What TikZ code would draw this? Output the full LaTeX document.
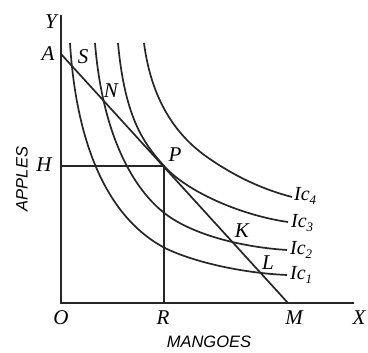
\documentclass[tikz,border=0pt]{standalone}
\usepackage{fontspec}
\setmainfont{Liberation Serif}
\setsansfont{Liberation Sans}
\begin{document}
\begin{tikzpicture}[x=1pt,y=-1pt,
  axis/.style={line width=2pt,black!85},
  curve/.style={line width=1.7pt,black!85},
  guide/.style={line width=1.7pt,black!85},
  lbl/.style={font=\fontsize{21}{22}\selectfont\itshape,inner sep=0pt},
  axlbl/.style={font=\fontsize{16.5}{17}\selectfont\sffamily\itshape,inner sep=0pt},
  iclbl/.style={font=\fontsize{20}{21}\selectfont\itshape,inner sep=1pt,anchor=west}]
\useasboundingbox (0,0) rectangle (368,353);
% axes
\coordinate (ytop) at (61,15);
\coordinate (o) at (61,303);
\coordinate (xend) at (354,303);
\draw[axis] (ytop) -- (o) -- (xend);
% budget line
\coordinate (a) at (61,54);
\coordinate (m) at (288,303);
\draw[curve] (a) -- (m);
% guides
\coordinate (h) at (61,166);
\coordinate (p) at (164,166);
\coordinate (r) at (164,303);
\draw[guide] (h) -- (p) -- (r);
% indifference curves
\coordinate (ic1s) at (70,43);
\coordinate (ic1m) at (163,247);
\coordinate (ic1e) at (287,275);
\draw[curve] (ic1s) .. controls (76,140) and (105,215) .. (ic1m)
  .. controls (190,261) and (240,273) .. (ic1e);
\coordinate (ic2s) at (95,43);
\coordinate (ic2m) at (163,212);
\coordinate (ic2e) at (287,250);
\draw[curve] (ic2s) .. controls (102,130) and (130,185) .. (ic2m)
  .. controls (190,234) and (240,247) .. (ic2e);
\coordinate (ic3s) at (118,43);
\coordinate (ic3m) at (165,167);
\coordinate (ic3e) at (288,222);
\draw[curve] (ic3s) .. controls (125,120) and (145,145) .. (ic3m)
  .. controls (190,194) and (245,216) .. (ic3e);
\coordinate (ic4s) at (144,43);
\coordinate (ic4m) at (207,157);
\coordinate (ic4e) at (292,197);
\draw[curve] (ic4s) .. controls (152,105) and (180,138) .. (ic4m)
  .. controls (237,178) and (265,190) .. (ic4e);
% labels
\node[lbl] (ylab) at (51,22) {Y};
\node[lbl] (alab) at (48,54) {A};
\node[lbl] (slab) at (83,57) {S};
\node[lbl] (nlab) at (111,91) {N};
\node[lbl] (hlab) at (44,165) {H};
\node[lbl] (plab) at (175,155) {P};
\node[lbl] (klab) at (242,231) {K};
\node[lbl] (llab) at (268,263) {L};
\node[lbl] (olab) at (61,318) {O};
\node[lbl] (rlab) at (163,318) {R};
\node[lbl] (mlab) at (294,318) {M};
\node[lbl] (xlab) at (359,318) {X};
\node[iclbl] (ic4) at ([xshift=1pt,yshift=1pt]ic4e) {Ic\raisebox{-0.35ex}{\fontsize{13}{13}\selectfont 4}};
\node[iclbl] (ic3) at ([xshift=2pt,yshift=-1pt]ic3e) {Ic\raisebox{-0.35ex}{\fontsize{13}{13}\selectfont 3}};
\node[iclbl] (ic2) at ([xshift=2pt]ic2e) {Ic\raisebox{-0.35ex}{\fontsize{13}{13}\selectfont 2}};
\node[iclbl] (ic1) at ([xshift=2pt]ic1e) {Ic\raisebox{-0.35ex}{\fontsize{13}{13}\selectfont 1}};
\node[axlbl] (mangoes) at (209,342) {MANGOES};
\node[axlbl,rotate=90] (apples) at (22,179) {APPLES};
\end{tikzpicture}
\end{document}
